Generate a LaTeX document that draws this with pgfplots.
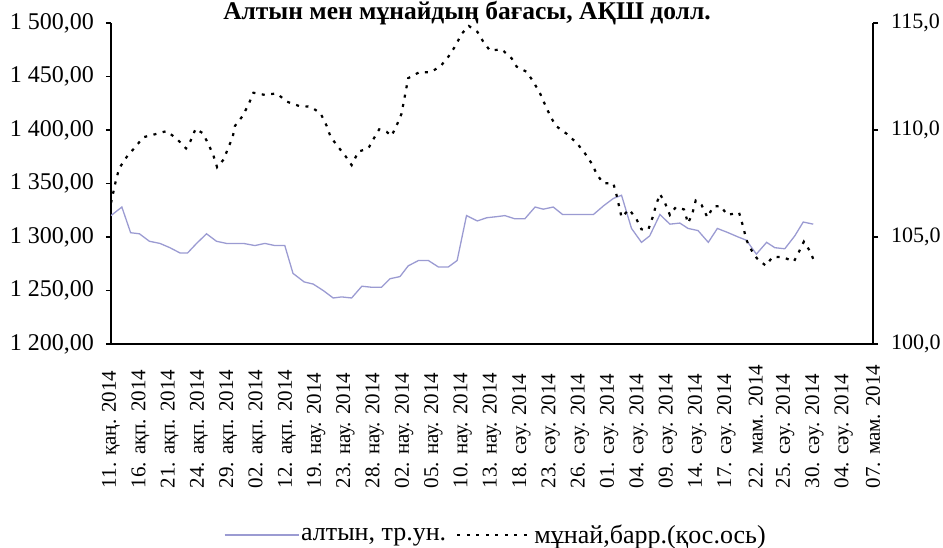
\documentclass[border=0pt]{standalone}
\usepackage{pgfplots}
\pgfplotsset{compat=1.18}
\usepackage{fontspec}
\setmainfont{Liberation Serif}
\definecolor{goldc}{RGB}{155,155,210}
\newcommand{\fs}{\fontsize{24}{26}\selectfont}
\begin{document}
\begin{tikzpicture}[x=1pt,y=1pt]
\useasboundingbox (0,0) rectangle (943,548);
\node[anchor=base] at (467,528) {\fontsize{25.5}{28}\selectfont\bfseries Алтын мен мұнайдың бағасы, АҚШ долл.};
\begin{axis}[
  at={(111pt,204pt)}, anchor=south west, scale only axis,
  width=762pt, height=321pt,
  xmin=0, xmax=26, ymin=1200, ymax=1500,
  axis x line*=bottom, axis y line*=left,
  axis line style={-, line width=1.6pt, black},
  ytick={1200,1250,...,1500},
  tick align=outside, major tick length=5pt,
  ytick style={black, line width=1.4pt},
  xtick style={draw=none},
  xtick={0,...,26},
  xticklabels={11. қаң. 2014,16. ақп. 2014,21. ақп. 2014,24. ақп. 2014,29. ақп. 2014,02. ақп. 2014,12. ақп. 2014,19. нау. 2014,23. нау. 2014,28. нау. 2014,02. нау. 2014,05. нау. 2014,10. нау. 2014,13. нау. 2014,18. сәу. 2014,23. сәу. 2014,26. сәу. 2014,01. сәу. 2014,04. сәу. 2014,09. сәу. 2014,14. сәу. 2014,17. сәу. 2014,22. мам. 2014,25. сәу. 2014,30. сәу. 2014,04. сәу. 2014,07. мам. 2014},
  xticklabel style={rotate=90, anchor=east, text width=136pt, align=flush left, inner sep=3pt, font=\fontsize{21}{22}\selectfont},
  yticklabel style={font=\fs, inner sep=2pt, xshift=-10pt},
  /pgf/number format/assume math mode=true,
  yticklabel={\pgfmathprintnumber[fixed,fixed zerofill,precision=2,use comma,1000 sep={\ }]{\tick}},
  legend style={draw=none, at={(0.505,-0.595)}, anchor=center, font=\fontsize{26}{28}\selectfont, legend columns=2,
    inner sep=0pt,
    /tikz/every even column/.append style={column sep=8pt}},
  legend image code/.code={\draw[#1] (0pt,0pt) -- (74pt,0pt);},
]
\addplot[goldc, line width=1.3pt] coordinates {
(0,1320) (0.37,1328) (0.67,1304) (0.97,1303) (1.31,1296) (1.67,1294) (2.01,1290) (2.36,1285) (2.61,1285)
(2.92,1294) (3.26,1303) (3.60,1296) (3.94,1294) (4.52,1294) (4.91,1292) (5.25,1294) (5.59,1292) (5.93,1292)
(6.21,1266) (6.59,1258) (6.90,1256) (7.24,1250) (7.58,1243) (7.87,1244) (8.21,1243) (8.56,1254) (8.90,1253)
(9.23,1253) (9.52,1261) (9.86,1263) (10.14,1273) (10.49,1278) (10.83,1278) (11.17,1272) (11.51,1272) (11.81,1278)
(12.13,1320) (12.50,1315) (12.82,1318) (13.16,1319) (13.44,1320) (13.78,1317) (14.12,1317) (14.47,1328) (14.75,1326)
(15.09,1328) (15.41,1321) (16.46,1321) (16.80,1329) (17.14,1336) (17.42,1339) (17.76,1308) (18.10,1295) (18.38,1301)
(18.73,1321) (19.07,1312) (19.41,1313) (19.69,1308) (20.03,1306) (20.38,1295) (20.69,1308) (21.06,1304) (21.40,1300)
(21.68,1297) (22.02,1284) (22.37,1295) (22.65,1290) (22.99,1289) (23.33,1301) (23.62,1314) (23.96,1312)
};
\addlegendentry{алтын, тр.ун.}
\addlegendimage{black, line width=2.2pt, dash pattern=on 3pt off 6.5pt}
\addlegendentry{мұнай,барр.(қос.ось)}
\end{axis}
\begin{axis}[
  at={(111pt,204pt)}, anchor=south west, scale only axis,
  width=762pt, height=321pt,
  xmin=0, xmax=26, ymin=100, ymax=115,
  axis x line=none, axis y line*=right,
  axis line style={-, line width=1.6pt, black},
  ytick={100,105,110,115},
  tick align=outside, major tick length=5pt,
  ytick style={black, line width=1.4pt},
  yticklabel style={font=\fontsize{22}{24}\selectfont, inner sep=1pt, anchor=west, xshift=12pt},
  /pgf/number format/assume math mode=true,
  yticklabel={\pgfmathprintnumber[fixed,fixed zerofill,precision=1,use comma]{\tick}},
]
\addplot[black, line width=2.2pt, dash pattern=on 3pt off 6.5pt] coordinates {
(0,106.59) (0.17,107.66) (0.28,108.21) (0.54,108.75) (0.82,109.19) (1.10,109.66) (1.50,109.80) (1.90,109.95)
(2.25,109.58) (2.56,109.14) (2.70,109.45) (2.89,110.06) (3.13,109.85) (3.32,109.35) (3.49,108.83) (3.62,108.26)
(3.85,108.63) (3.98,109.10) (4.15,109.66) (4.23,110.19) (4.50,110.67) (4.71,111.25) (4.86,111.74) (5.25,111.64)
(5.65,111.71) (6.01,111.32) (6.42,111.12) (6.81,111.09) (7.15,110.78) (7.36,110.19) (7.49,109.69) (7.70,109.30)
(8.00,108.78) (8.21,108.36) (8.44,108.99) (8.78,109.14) (8.97,109.61) (9.15,110.03) (9.40,109.92) (9.57,109.72)
(9.74,110.19) (9.91,110.75) (9.99,111.32) (10.14,112.42) (10.52,112.70) (10.91,112.70) (11.25,112.99) (11.53,113.46)
(11.77,113.97) (11.96,114.49) (12.21,114.86) (12.50,114.59) (12.70,114.13) (12.93,113.71) (13.33,113.77) (13.67,113.35)
(13.84,112.96) (14.18,112.72) (14.41,112.26) (14.64,111.71) (14.83,111.12) (15.00,110.62) (15.18,110.19) (15.56,109.81)
(15.90,109.38) (16.17,108.91) (16.40,108.44) (16.59,107.90) (16.80,107.51) (17.14,107.51) (17.25,106.96) (17.42,105.92)
(17.68,106.29) (17.93,105.83) (18.10,105.36) (18.33,105.33) (18.48,105.92) (18.60,106.50) (18.73,107.01) (18.90,106.60)
(19.07,106.03) (19.27,106.39) (19.55,106.29) (19.69,105.64) (19.84,106.11) (19.95,106.70) (20.15,106.50) (20.35,105.92)
(20.55,106.42) (20.80,106.45) (21.03,106.03) (21.43,106.14) (21.57,105.48) (21.68,104.86) (21.85,104.39) (22.04,104.00)
(22.34,103.66) (22.58,104.08) (22.94,104.05) (23.30,103.85) (23.45,104.24) (23.64,104.78) (23.84,104.36) (24.01,103.82)
};
\end{axis}
\end{tikzpicture}
\end{document}
